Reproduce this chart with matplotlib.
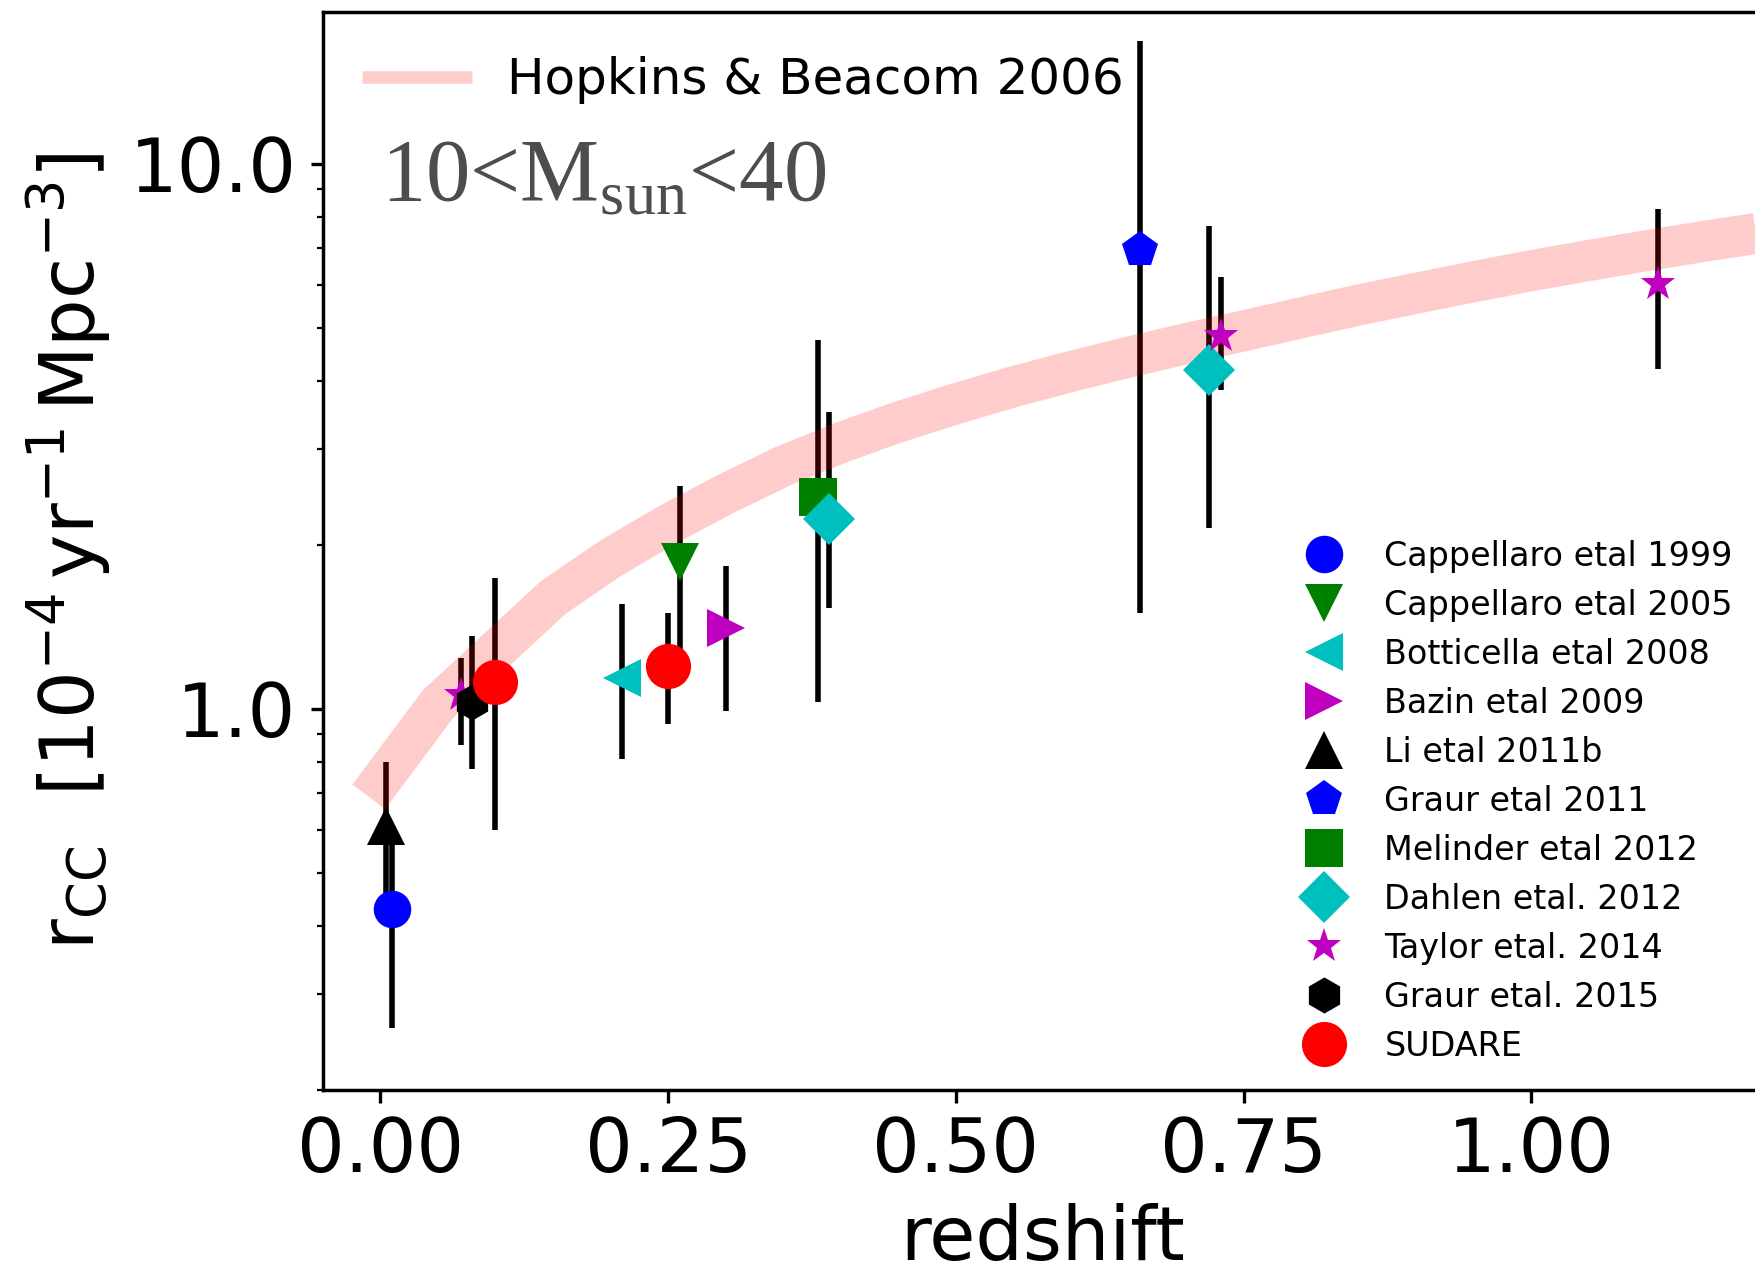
import matplotlib
import matplotlib.pyplot as plt
from matplotlib.ticker import FixedLocator, FormatStrFormatter, NullFormatter

matplotlib.use("Agg")
plt.rcParams["mathtext.rm"] = "Liberation Serif"   # only used by the mass-range label

# Hopkins & Beacom 2006 band
hb_z    = [-0.01, 0.05, 0.15, 0.20, 0.25, 0.30, 0.35, 0.40, 0.45, 0.50, 0.55, 0.60, 0.65,
           0.70, 0.75, 0.80, 0.85, 0.90, 0.95, 1.00, 1.05, 1.10, 1.15, 1.20, 1.25]
hb_rate = [0.69, 1.02, 1.60, 1.89, 2.18, 2.48, 2.79, 3.08, 3.36, 3.63, 3.90, 4.16, 4.42,
           4.68, 4.94, 5.22, 5.51, 5.79, 6.08, 6.37, 6.65, 6.93, 7.21, 7.48, 7.74]

# core-collapse rates, 1e-4 yr^-1 Mpc^-3 (value, lower error, upper error)
cap99_z, cap99_r, cap99_lo, cap99_hi = [0.01], [0.43], [0.17], [0.17]
cap05_z, cap05_r, cap05_lo, cap05_hi = [0.26], [1.86], [0.62], [0.71]
bot08_z, bot08_r, bot08_lo, bot08_hi = [0.21], [1.14], [0.33], [0.42]
baz09_z, baz09_r, baz09_lo, baz09_hi = [0.30], [1.41], [0.42], [0.42]
li11_z,  li11_r,  li11_lo,  li11_hi  = [0.005], [0.61], [0.16], [0.19]
gra11_z, gra11_r, gra11_lo, gra11_hi = [0.66], [6.95], [5.45], [9.85]
mel12_z, mel12_r, mel12_lo, mel12_hi = [0.38], [2.45], [1.42], [2.30]
dah12_z, dah12_r, dah12_lo, dah12_hi = [0.39, 0.72], [2.23, 4.19], [0.70, 2.04], [1.27, 3.50]
tay14_z, tay14_r, tay14_lo, tay14_hi = [0.07, 0.73, 1.11], [1.06, 4.84, 6.02], [0.20, 0.99, 1.81], [0.18, 1.36, 2.25]
gra15_z, gra15_r, gra15_lo, gra15_hi = [0.08], [1.03], [0.255], [0.33]
sud_z,   sud_r,   sud_lo,   sud_hi   = [0.10, 0.25], [1.12, 1.20], [0.52, 0.26], [0.62, 0.30]

x_ticks = [0.0, 0.25, 0.5, 0.75, 1.0]
y_ticks = [1.0, 10.0]

# label, z, rate, lo, hi, marker, colour, size
surveys = [
    ("Cappellaro etal 1999", cap99_z, cap99_r, cap99_lo, cap99_hi, "o", "b", 27),
    ("Cappellaro etal 2005", cap05_z, cap05_r, cap05_lo, cap05_hi, "v", "g", 28),
    ("Botticella etal 2008", bot08_z, bot08_r, bot08_lo, bot08_hi, "<", "c", 28),
    ("Bazin etal 2009",      baz09_z, baz09_r, baz09_lo, baz09_hi, ">", "m", 28),
    ("Li etal 2011b",        li11_z,  li11_r,  li11_lo,  li11_hi,  "^", "k", 28),
    ("Graur etal 2011",      gra11_z, gra11_r, gra11_lo, gra11_hi, "p", "b", 27),
    ("Melinder etal 2012",   mel12_z, mel12_r, mel12_lo, mel12_hi, "s", "g", 27),
    ("Dahlen etal. 2012",    dah12_z, dah12_r, dah12_lo, dah12_hi, "D", "c", 26.5),
    ("Taylor etal. 2014",    tay14_z, tay14_r, tay14_lo, tay14_hi, "*", "m", 26),
    ("Graur etal. 2015",     gra15_z, gra15_r, gra15_lo, gra15_hi, "h", "k", 26),
    ("SUDARE",               sud_z,   sud_r,   sud_lo,   sud_hi,   "o", "r", 32.5),
]

fig = plt.figure(figsize=(17.55, 12.73), dpi=100)
# right spine sits just past the figure edge
ax = fig.add_axes([0.1839, 0.1438, 0.8199, 0.8468])

handles = []
for label, z, r, lo, hi, mk, col, ms in surveys:
    ax.errorbar(z, r, yerr=[lo, hi], fmt="none", ecolor="k", elinewidth=4, capsize=0, zorder=1)
    h, = ax.plot(z, r, ls="none", marker=mk, color=col, ms=ms, mew=0, zorder=3, label=label)
    handles.append(h)

band, = ax.plot(hb_z, hb_rate, color="r", alpha=0.2, lw=29.5, solid_capstyle="butt",
                solid_joinstyle="miter", zorder=2, label="Hopkins & Beacom 2006")

ax.set_yscale("log")
ax.set_xlim(-0.05, 1.2)
ax.set_ylim(0.2, 19)
ax.xaxis.set_major_locator(FixedLocator(x_ticks))
ax.xaxis.set_major_formatter(FormatStrFormatter("%.2f"))
ax.yaxis.set_major_locator(FixedLocator(y_ticks))
ax.yaxis.set_major_formatter(FormatStrFormatter("%.1f"))
ax.yaxis.set_minor_formatter(NullFormatter())

for s in ax.spines.values():
    s.set_linewidth(2.5)
ax.tick_params(axis="both", which="major", labelsize=54, length=9, width=2.4)
ax.tick_params(axis="y", which="major", pad=10)
ax.tick_params(axis="x", which="major", pad=9)
ax.tick_params(axis="y", which="minor", length=4.5, width=1.6)

ax.set_xlabel("redshift", fontsize=54, labelpad=11)
ax.set_ylabel(r"r$_{\rm CC}$  [10$^{-4}\,$yr$^{-1}\,$Mpc$^{-3}$]", fontsize=54, labelpad=12)

fig.text(0.217, 0.843, r"10<M$_{\rm sun}$<40", family="Liberation Serif", math_fontfamily="custom",
         fontsize=64, color="0.3", ha="left", va="baseline")

leg1 = ax.legend(handles=[band], loc="upper left", bbox_to_anchor=(0.1806, 0.991),
                 bbox_transform=fig.transFigure, frameon=False, fontsize=36,
                 handlelength=2.2, handletextpad=0.7, borderpad=0.4)
leg1.legend_handles[0].set_linewidth(9)
ax.add_artist(leg1)

ax.legend(handles=handles, loc="upper left", bbox_to_anchor=(0.7186, 0.5994),
          bbox_transform=fig.transFigure, frameon=False, fontsize=24,
          numpoints=1, labelspacing=0.48, handlelength=2.0, handletextpad=0.8,
          borderpad=0.4)

fig.savefig("out.png", dpi=100)
